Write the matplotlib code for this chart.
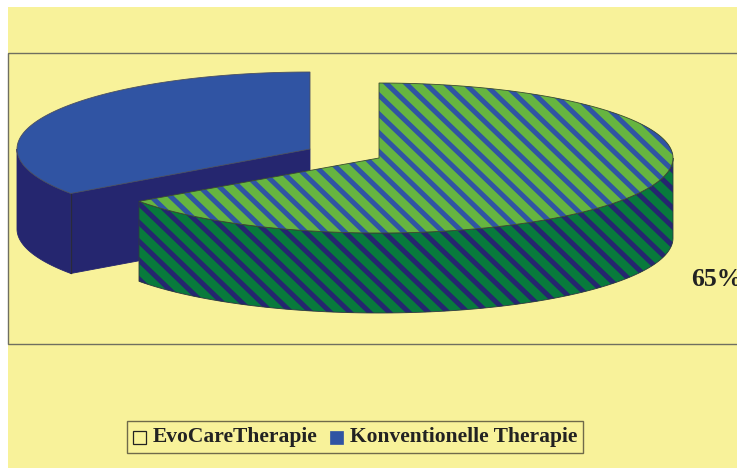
import numpy as np
import matplotlib
matplotlib.use("Agg")
import matplotlib.pyplot as plt
from matplotlib.patches import Polygon, Rectangle, Patch
from matplotlib.collections import LineCollection
from matplotlib.legend_handler import HandlerPatch

categories = ["EvoCareTherapie", "Konventionelle Therapie"]
shares = [65.2, 34.8]
value_label = "65%"

BG = "#F8F29A"
BLUE = "#3054A3"
NAVY = "#25266F"
GREEN = "#66B540"
DKGREEN = "#087A3C"
INK = "#222222"

W, H = 737, 468
fig = plt.figure(figsize=(W / 100, H / 100), dpi=100, facecolor="white")
ax = fig.add_axes([0, 0, 1, 1])
ax.set_xlim(0, W)
ax.set_ylim(H, 0)
ax.axis("off")


def arc(cx, cy, rx, ry, t0, t1, dy=0, n=160):
    t = np.radians(np.linspace(t0, t1, n))
    return np.column_stack([cx + rx * np.cos(t), cy - ry * np.sin(t) + dy])


def stripes(patch, color, zorder=3, phase=0.0):
    """Diagonal stripes clipped to a patch."""
    period, width_px, run = 19.6, 5.0, 1.04
    offs = np.arange(-700, 800, period) + phase
    segs = [[(o, 0), (o + H * run, H)] for o in offs]
    lc = LineCollection(segs, colors=color, linewidths=width_px * 0.72, zorder=zorder,
                        capstyle="butt")
    ax.add_collection(lc)
    lc.set_clip_path(patch)


# Page
ax.add_patch(Rectangle((8, 7), W - 8, H - 7, fc=BG, ec="none", zorder=0))
ax.add_patch(Rectangle((8, 52.5), W, 291.5, fc="none", ec="#6f6f60", lw=1.0, zorder=1))

depth = 80
sweep_green = 360 * shares[0] / 100
sweep_blue = 360 * shares[1] / 100

# Blue slice (exploded to the left)
bc = (310, 149, 293, 77)
b_end = 90 + sweep_blue
top = arc(*bc, 90, b_end)
p_left = top[-1]
wall = np.vstack([arc(*bc, 180, b_end), arc(*bc, b_end, 180, dy=depth)])
ax.add_patch(Polygon(wall, fc=NAVY, ec=NAVY, lw=0.6, zorder=2))
face = np.array([[bc[0], bc[1]], p_left, p_left + [0, depth], [bc[0], bc[1] + depth]])
ax.add_patch(Polygon(face, fc=NAVY, ec=NAVY, lw=0.6, zorder=2))
ax.plot([p_left[0], p_left[0]], [p_left[1], p_left[1] + depth], color="#2a2a3a", lw=0.9, zorder=2.2)
ax.add_patch(Polygon(np.vstack([top, [bc[0], bc[1]]]), fc=BLUE, ec="#4a4f60", lw=0.6, zorder=2.4))

# Green slice
gc = (379, 158, 294, 75)
g_end = 90 - sweep_green
gtop_pts = np.vstack([arc(*gc, 90, g_end), [gc[0], gc[1]]])
gwall_pts = np.vstack([arc(*gc, 0, g_end), arc(*gc, g_end, 0, dy=depth)])

gwall = Polygon(gwall_pts, fc=DKGREEN, ec="none", zorder=3)
ax.add_patch(gwall)
stripes(gwall, NAVY, zorder=3.1)
ax.add_patch(Polygon(gwall_pts, fc="none", ec="#2f3a40", lw=0.6, zorder=3.2))

gtop = Polygon(gtop_pts, fc=GREEN, ec="none", zorder=3.5)
ax.add_patch(gtop)
stripes(gtop, BLUE, zorder=3.6)
ax.add_patch(Polygon(gtop_pts, fc="none", ec="#3a4a30", lw=0.6, zorder=3.7))

# Value label (runs off the right edge, as in the source)
ax.text(691, 286, value_label, fontsize=18.5, fontweight="bold", family="Liberation Serif",
        color=INK, ha="left", va="baseline", zorder=5)


def low_swatch(legend, orig_handle, xdescent, ydescent, width, height, fontsize):
    return Rectangle((-xdescent, -ydescent - 2.2), width, height)


# Legend
handles = [Patch(fc="none", ec=INK, lw=0.9), Patch(fc=BLUE, ec=BLUE, lw=0.5)]
leg = ax.legend(handles, categories, ncol=2, loc="center", bbox_to_anchor=(355, 437),
                bbox_transform=ax.transData,
                prop={"family": "Liberation Serif", "weight": "bold", "size": 15.5},
                labelcolor=INK, frameon=True, fancybox=False, facecolor=BG, edgecolor="#6f6a4a",
                framealpha=1, handlelength=0.62, handleheight=0.62, handletextpad=0.32,
                columnspacing=0.55, borderpad=0.28, borderaxespad=0,
                handler_map={Patch: HandlerPatch(patch_func=low_swatch)})
leg.get_frame().set_linewidth(1.0)

fig.savefig("out.png", dpi=100, facecolor="white")
